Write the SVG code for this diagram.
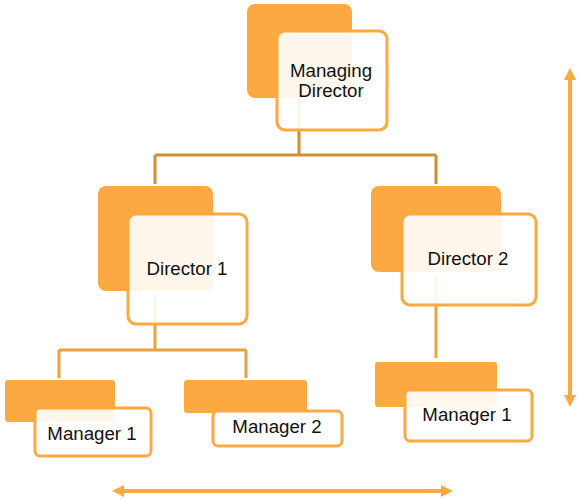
<svg xmlns="http://www.w3.org/2000/svg" width="580" height="500" viewBox="0 0 580 500">
<style>
.back{fill:#FDA942;}
.front{fill:#FFFFFF;fill-opacity:0.9;stroke:#FDA942;stroke-width:3;}
.lbl{font-family:"Liberation Sans",Arial,sans-serif;font-size:18.7px;fill:#111;text-anchor:middle;}
.c1{stroke:#D08E36;stroke-width:3;fill:none;}
.c2{stroke:#E9A23E;stroke-width:3;fill:none;}
.arr{stroke:#FDA942;stroke-width:4;fill:none;}
</style>
<defs>
<marker id="ah" viewBox="0 0 10 10" refX="5" refY="5" markerWidth="3" markerHeight="3" orient="auto-start-reverse">
<path d="M0,0 L10,5 L0,10 z" fill="#FDA942"/>
</marker>
</defs>
<g id="connectors">
<path class="c1" d="M299,100 V155 M155,155 H436 M155,155 V184 M436,155 V184"/>
<path class="c2" d="M155,294 V350 M59,350 H246 M59,350 V378 M246,350 V378"/>
<path class="c2" d="M436,276 V358"/>
</g>
<g id="node-md">
<rect class="back" x="247" y="4" width="105" height="94" rx="8"/>
<rect class="front" x="277" y="31" width="110" height="99" rx="8"/>
<text class="lbl" x="331" y="77">Managing</text>
<text class="lbl" x="331" y="97">Director</text>
</g>
<g id="node-d1">
<rect class="back" x="98" y="186" width="115" height="105" rx="8"/>
<rect class="front" x="128" y="214" width="119" height="110" rx="8"/>
<text class="lbl" x="187" y="275">Director 1</text>
</g>
<g id="node-d2">
<rect class="back" x="371" y="186" width="130" height="86" rx="8"/>
<rect class="front" x="402" y="214" width="134" height="91" rx="8"/>
<text class="lbl" x="468" y="265">Director 2</text>
</g>
<g id="node-m1">
<rect class="back" x="5" y="380" width="110" height="42" rx="3"/>
<rect class="front" x="35" y="408" width="116" height="48" rx="5"/>
<text class="lbl" x="92" y="440">Manager 1</text>
</g>
<g id="node-m2">
<rect class="back" x="184" y="380" width="123" height="33" rx="3"/>
<rect class="front" x="213" y="411" width="129" height="35" rx="5"/>
<text class="lbl" x="277" y="433">Manager 2</text>
</g>
<g id="node-m3">
<rect class="back" x="375" y="362" width="122" height="45" rx="3"/>
<rect class="front" x="405" y="390" width="127" height="51" rx="5"/>
<text class="lbl" x="467" y="421">Manager 1</text>
</g>
<g id="arrows">
<line class="arr" x1="570" y1="74" x2="570" y2="401" marker-start="url(#ah)" marker-end="url(#ah)"/>
<line class="arr" x1="118" y1="491" x2="447" y2="491" marker-start="url(#ah)" marker-end="url(#ah)"/>
</g>
</svg>
